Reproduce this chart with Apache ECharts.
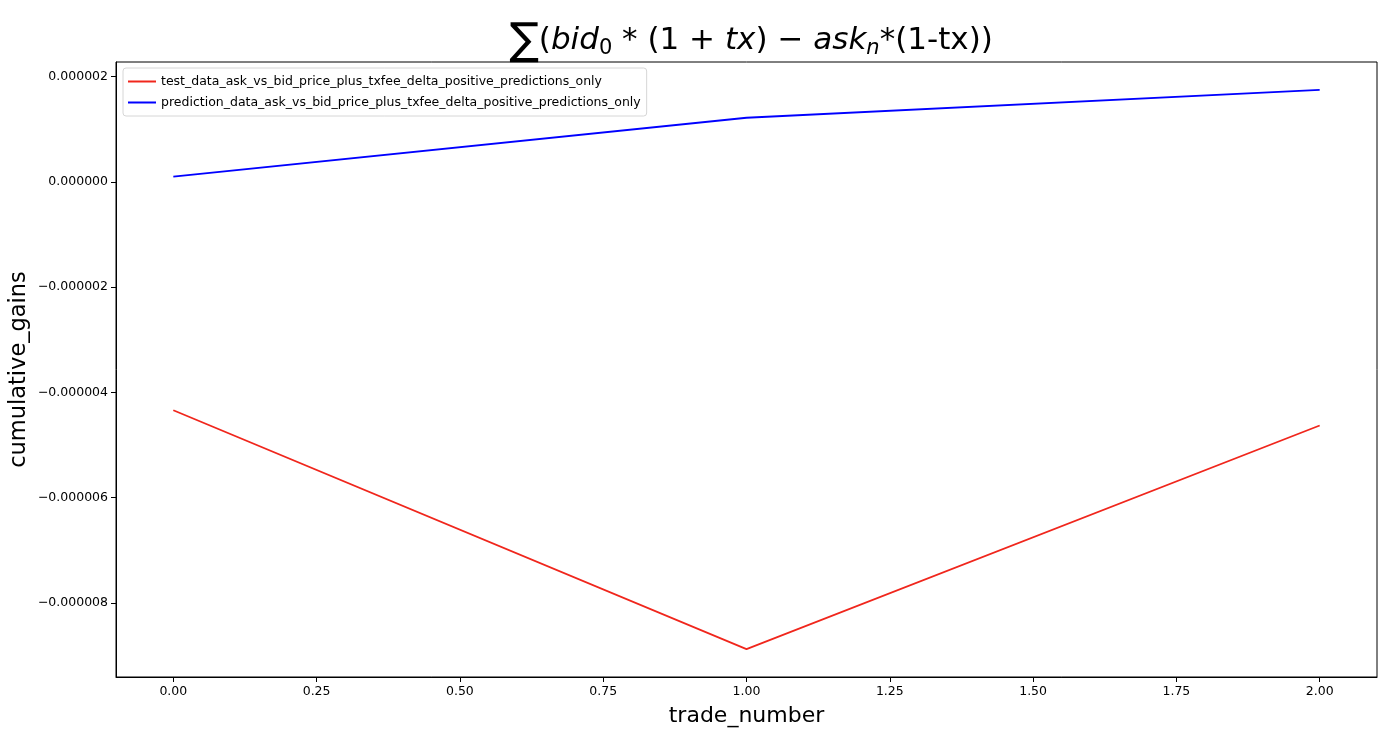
<!DOCTYPE html>
<html>
<head>
<meta charset="utf-8">
<title>cumulative gains</title>
<script src="https://cdn.jsdelivr.net/npm/echarts@6/dist/echarts.min.js"></script>
<style>
  html, body { margin: 0; padding: 0; background: #fff; }
  #chart { width: 1400px; height: 738px; }
</style>
</head>
<body>
<div id="chart"></div>
<script>
// trade index on the x axis
const tradeNumber = [0, 1, 2]
// cumulative gains
const testGains = [-4.34e-6, -8.88e-6, -4.63e-6]
const predictionGains = [1.0e-7, 1.22e-6, 1.75e-6]
// tick positions
const xTicks = [0, 0.25, 0.5, 0.75, 1, 1.25, 1.5, 1.75, 2]
const yTicks = [-8e-6, -6e-6, -4e-6, -2e-6, 0, 2e-6]

const testName = 'test_data_ask_vs_bid_price_plus_txfee_delta_positive_predictions_only'
const predName = 'prediction_data_ask_vs_bid_price_plus_txfee_delta_positive_predictions_only'

const font = 'DejaVu Sans'

function pairs(xs, ys) {
  return xs.map((x, i) => [x, ys[i]])
}

function fmtY(v) {
  const s = Math.abs(v).toFixed(6)
  return v < -1e-12 ? '\u2212' + s : s
}

const chart = echarts.init(document.getElementById('chart'))

const base = { fontFamily: font, fontSize: 31, fontWeight: 'normal', color: '#000' }
const it = Object.assign({}, base, { fontStyle: 'italic' })
const sub = { fontFamily: font, fontSize: 21, fontWeight: 'normal', color: '#000', padding: [16, 0, 0, 0] }

chart.setOption({
  backgroundColor: '#fff',
  animation: false,
  title: {
    left: 746,
    top: 12,
    textAlign: 'center',
    text: '{sum|\u2211}{n|(}{i|bid}{sub|0}{n| * (1 + }{i|tx}{n|) \u2212 }{i|ask}{isub|n}{n|*(1-tx))}',
    textStyle: {
      fontWeight: 'normal',
      rich: {
        sum: { fontFamily: font, fontSize: 44, fontWeight: 'normal', color: '#000', padding: [4, 0, 0, 0] },
        n: base,
        i: it,
        sub: sub,
        isub: Object.assign({}, sub, { fontStyle: 'italic' })
      }
    }
  },
  legend: {
    left: 123,
    top: 68,
    orient: 'vertical',
    itemGap: 8,
    itemWidth: 28,
    itemHeight: 2,
    padding: [7, 6, 7, 5],
    backgroundColor: 'rgba(255,255,255,0.8)',
    borderColor: '#d6d6d6',
    borderWidth: 1,
    borderRadius: 3,
    icon: 'rect',
    textStyle: { fontFamily: font, fontSize: 12.5, color: '#000' },
    data: [testName, predName]
  },
  grid: {
    left: 116,
    right: 23,
    top: 62,
    bottom: 61,
    show: true,
    borderColor: '#000',
    borderWidth: 1,
    containLabel: false,
    outerBoundsMode: 'none'
  },
  xAxis: {
    type: 'value',
    min: -0.1,
    max: 2.1,
    name: 'trade_number',
    nameLocation: 'middle',
    nameGap: 28,
    nameMoveOverlap: false,
    nameTextStyle: { fontFamily: font, fontSize: 22, color: '#000' },
    axisLine: { show: true, onZero: false, lineStyle: { color: '#000', width: 1 } },
    axisTick: { show: true, length: 5, customValues: xTicks, lineStyle: { color: '#000' } },
    axisLabel: {
      customValues: xTicks,
      fontFamily: font,
      fontSize: 12.5,
      color: '#000',
      margin: 8,
      formatter: v => v.toFixed(2)
    },
    splitLine: { show: false }
  },
  yAxis: {
    type: 'value',
    min: -9.41e-6,
    max: 2.28e-6,
    name: 'cumulative_gains',
    nameLocation: 'middle',
    nameRotate: 90,
    nameGap: 85,
    nameMoveOverlap: false,
    nameTextStyle: { fontFamily: font, fontSize: 22.5, color: '#000' },
    axisLine: { show: true, onZero: false, lineStyle: { color: '#000', width: 1 } },
    axisTick: { show: true, length: 5, customValues: yTicks, lineStyle: { color: '#000' } },
    axisLabel: {
      customValues: yTicks,
      fontFamily: font,
      fontSize: 12.5,
      color: '#000',
      margin: 8,
      formatter: fmtY
    },
    splitLine: { show: false }
  },
  series: [
    {
      name: testName,
      type: 'line',
      data: pairs(tradeNumber, testGains),
      symbol: 'none',
      color: '#f0261c',
      lineStyle: { width: 1.8, color: '#f0261c' }
    },
    {
      name: predName,
      type: 'line',
      data: pairs(tradeNumber, predictionGains),
      symbol: 'none',
      color: '#0000ff',
      lineStyle: { width: 1.8, color: '#0000ff' }
    }
  ]
})
</script>
</body>
</html>
